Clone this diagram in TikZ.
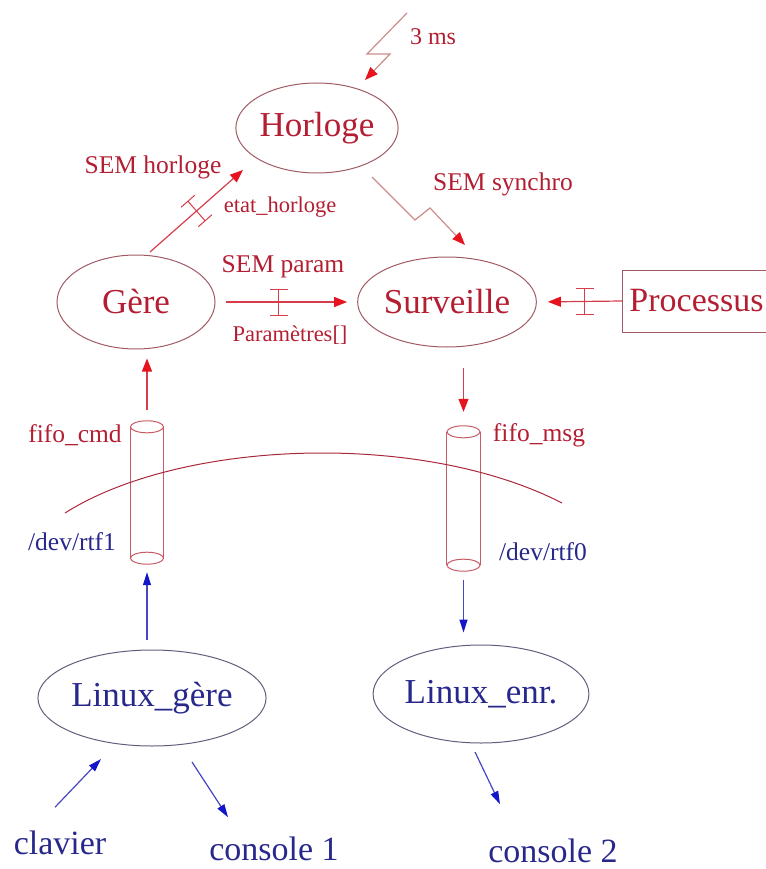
\documentclass[tikz,border=0pt]{standalone}
\usepackage{fontspec}
\setmainfont{Liberation Serif}
\usetikzlibrary{arrows.meta,calc,shapes.geometric}
\definecolor{rtext}{RGB}{180,30,50}
\definecolor{rline}{RGB}{215,60,75}
\definecolor{rtip}{RGB}{230,20,30}
\definecolor{zline}{RGB}{205,140,140}
\definecolor{rell}{RGB}{160,90,100}
\definecolor{bell}{RGB}{95,95,125}
\definecolor{btext}{RGB}{40,40,140}
\definecolor{bline}{RGB}{70,70,190}
\definecolor{btip}{RGB}{20,20,200}
\definecolor{cylc}{RGB}{200,90,100}
\definecolor{arcc}{RGB}{170,40,60}
\newcommand\ibeamat[2]{\begin{scope}[shift={(#1)}, rotate=#2]
  \draw[rline, line width=1pt] (0,-13)--(0,13) (-9,-13)--(9,-13) (-9,13)--(9,13);
\end{scope}}
\begin{document}
\begin{tikzpicture}[x=1pt,y=-1pt,
  proc/.style={ellipse, draw=rell, line width=1pt, inner sep=0pt, text=rtext, font=\fontsize{35}{40}\selectfont},
  lproc/.style={proc, draw=bell, text=btext},
  lbl/.style={text=rtext, font=\fontsize{25.5}{30}\selectfont, inner sep=0pt},
  slbl/.style={lbl, font=\fontsize{22.5}{26}\selectfont},
  blbl/.style={lbl, text=btext},
  big/.style={text=btext, font=\fontsize{34}{40}\selectfont, inner sep=0pt, anchor=base},
  rarr/.style={draw=rline, line width=1.2pt, -{Triangle[length=13pt,width=10pt,color=rtip]}},
  zarr/.style={rarr, draw=zline},
  barr/.style={draw=bline, line width=1.2pt, -{Triangle[length=13pt,width=8pt,color=btip]}},
  fifo/.style={minimum width=33pt, inner sep=0pt, draw=none},
  cylline/.style={draw=cylc, line width=1pt}
]
\useasboundingbox (0,0) rectangle (765,869);

% processes
\node[proc, minimum width=160pt, minimum height=90pt] (horloge) at (317,128) {Horloge};
\node[proc, minimum width=158pt, minimum height=94pt] (gere) at (136,302) {Gère};
\node[proc, minimum width=160pt, minimum height=90pt] (surv) at (447,302) {Surveille};
\node[draw=rell, line width=1pt, text=rtext, font=\fontsize{34}{40}\selectfont,
      minimum width=148pt, minimum height=62pt, inner sep=0pt, anchor=west] (procs) at (622,301) {Processus};
\node[lproc, minimum width=180pt, minimum height=96pt] (lgere) at (152,698) {Linux\_gère};
\node[lproc, minimum width=184pt, minimum height=98pt] (lenr) at (481,694) {Linux\_enr.};

% fifos
\node[fifo, minimum height=131pt] (fcmd) at (147,492.5) {};
\node[fifo, minimum height=133pt] (fmsg) at (463.5,498.5) {};
\foreach \f in {fcmd,fmsg}{
  \draw[cylline] (\f.north west) -- (\f.south west) (\f.north east) -- (\f.south east);
  \draw[cylline] (\f.north) ellipse [x radius=16.5pt, y radius=6pt];
  \draw[cylline] (\f.south) ellipse [x radius=16.5pt, y radius=6pt];
}

% kernel / user boundary
\draw[arcc, line width=1pt] (65,513) .. controls (180,440) and (420,430) .. (562,503);

% labels
\node[lbl] (semh) at (153,167) {SEM horloge};
\node[slbl] (etat) at (280,207) {etat\_horloge};
\node[lbl] (sems) at (503,184) {SEM synchro};
\node[lbl, font=\fontsize{24}{28}\selectfont] (ms) at (433,37) {3 ms};
\node[lbl] (semp) at (283,267) {SEM param};
\node[slbl] (par) at (290,335) {Paramètres[]};
\node[lbl] (fcmdl) at (75,435) {fifo\_cmd};
\node[blbl] (rtf1) at (72,542) {/dev/rtf1};
\node[lbl] (fmsgl) at (539,435) {fifo\_msg};
\node[blbl] (rtf0) at (543,552) {/dev/rtf0};
\node[big] (clav) at (60,854) {clavier};
\node[big] (cons1) at (274,860) {console 1};
\node[big] (cons2) at (553,862) {console 2};

% 3 ms timer
\coordinate (l0) at (407,13);
\coordinate (l1) at (367,54);
\coordinate (l2) at (390,54);
\draw[zarr] (l0) -- (l1) -- (l2) -- ($(horloge.center)+(48,-48)$);

% SEM synchro
\coordinate (z1) at (415,220);
\coordinate (z2) at (430,208);
\draw[zarr] ($(horloge.center)+(55,49)$) -- (z1) -- (z2) -- ($(surv.center)+(18,-57)$);

% SEM horloge
\draw[rarr] ($(gere.center)+(14,-50)$) -- coordinate[pos=0.5] (ib0) ($(horloge.center)+(-74,42)$);
\ibeamat{ib0}{41.4}

% SEM param
\draw[rarr, shorten <=10pt, shorten >=10pt] (gere.east) -- coordinate[pos=0.447] (ib1) (surv.west);
\ibeamat{ib1}{0}

% Processus
\draw[rarr, shorten >=11pt] (procs.west) -- coordinate[pos=0.44] (ib2) (surv.east);
\ibeamat{ib2}{0}

% fifo arrows
\draw[rarr, shorten <=17pt, shorten >=9pt] (fcmd.north) -- (fcmd.north |- gere.south);
\draw[rarr, shorten <=20pt, shorten >=20pt] (fmsg.north |- surv.south) -- (fmsg.north);
\draw[barr, shorten <=10pt, shorten >=14pt] (fcmd.south |- lgere.north) -- (fcmd.south);
\draw[barr, shorten <=15pt, shorten >=12pt] (fmsg.south) -- (fmsg.south |- lenr.north);

% user side
\draw[barr] ($(clav.north)+(-5,-23)$) -- ($(lgere.center)+(-51,61)$);
\draw[barr] ($(lgere.center)+(40,64)$) -- ($(cons1.north)+(-46,-19)$);
\draw[barr] ($(lenr.center)+(-6,58)$) -- ($(cons2.north)+(-53,-34)$);
\end{tikzpicture}
\end{document}
